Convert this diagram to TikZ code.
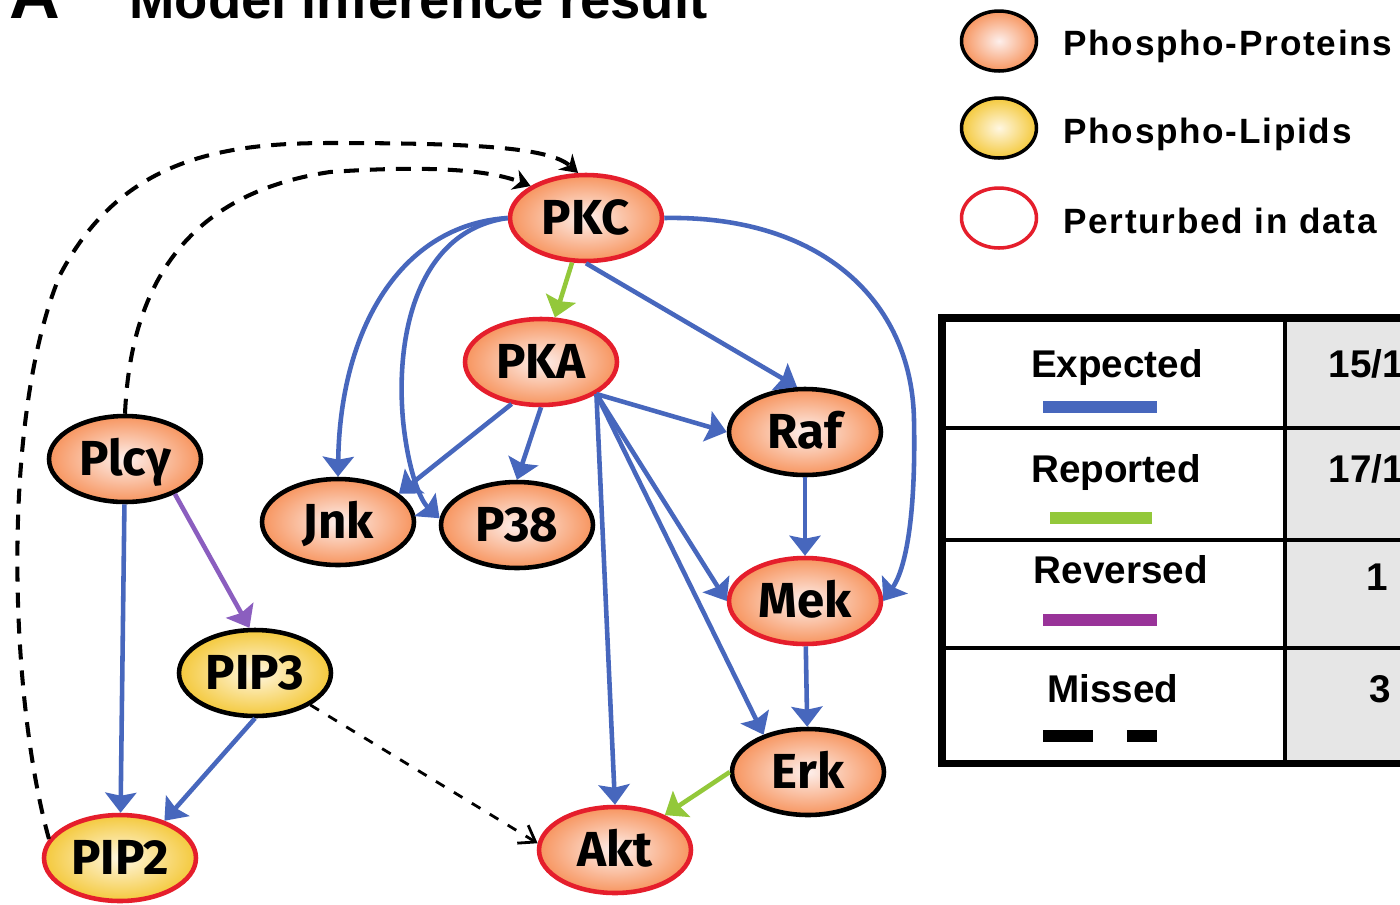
\documentclass[tikz,border=0pt]{standalone}
\usepackage{fontspec}
\setmainfont{Liberation Sans}
\newfontfamily\nodefont{Fira Sans}
\newfontfamily\legendfont[LetterSpace=5]{Liberation Sans}
\usepackage{xcolor}
\usepackage{tikz}
\usetikzlibrary{shapes.geometric, arrows.meta, positioning, calc}

\definecolor{protorange}{HTML}{F7955F}
\definecolor{protcore}{HTML}{FDEFEC}
\definecolor{lipidyellow}{HTML}{F4C93C}
\definecolor{lipidcore}{HTML}{FFF7E2}
\definecolor{pertred}{HTML}{E51E2C}
\definecolor{expblue}{HTML}{4767BD}
\definecolor{repgreen}{HTML}{93C83A}
\definecolor{revpurple}{HTML}{8B5EBF}
\definecolor{revlegend}{HTML}{993399}
\definecolor{cellgray}{HTML}{E6E6E6}

\tikzset{
  molnode/.style={
    ellipse, line width=2.6pt, minimum width=3.04cm, minimum height=1.72cm,
    inner sep=1pt, text height=19pt, text depth=0pt,
    font=\nodefont\bfseries\fontsize{28}{30}\selectfont
  },
  protein/.style={
    molnode, draw=black, inner color=protcore, outer color=protorange
  },
  lipid/.style={
    molnode, draw=black, inner color=lipidcore, outer color=lipidyellow
  },
  perturbed/.style={draw=pertred},
  legendoval/.style={
    ellipse, line width=2pt, minimum width=1.5cm, minimum height=1.2cm
  },
  legendlabel/.style={
    anchor=base west, inner sep=0pt,
    font=\legendfont\bfseries\fontsize{20}{22}\selectfont
  },
  tablelabel/.style={
    anchor=base, inner sep=0pt,
    font=\bfseries\fontsize{22}{24}\selectfont
  },
  netarrow/.style={
    line width=2.6pt, -{Stealth[width=0.62cm, length=0.4cm, inset=0.06cm]}
  },
  expected/.style={netarrow, draw=expblue},
  reported/.style={netarrow, draw=repgreen},
  reversed/.style={netarrow, draw=revpurple},
  missed/.style={
    line width=2.3pt, dash pattern=on 0.3cm off 0.22cm,
    -{Stealth[width=0.42cm, length=0.34cm]}
  },
  missedopen/.style={
    line width=1.6pt, dash pattern=on 0.2cm off 0.22cm,
    -{Straight Barb[width=0.42cm, length=0.3cm]}
  },
  swatch/.style={line width=7pt},
}

\begin{document}
\begin{tikzpicture}[x=0.02cm, y=-0.02cm]
  \path[use as bounding box] (0,0) rectangle (1400,904);
  \clip (0,0) rectangle (1400,904);
  \fill[white] (0,0) rectangle (1400,904);

  % ── Title ──────────────────────────────────────────────────────
  \node[anchor=base west, inner sep=0pt, font=\bfseries\fontsize{40}{44}\selectfont]
    (panel) at (9,18) {A};
  \node[anchor=base west, inner sep=0pt, font=\bfseries\fontsize{31}{36}\selectfont]
    (title) at (129,18) {Model inference result};

  % ── Network nodes ──────────────────────────────────────────────
  \node[protein, perturbed] (PKC) at (586,218) {PKC};
  \node[protein, perturbed] (PKA) at (541,362) {PKA};
  \node[protein] (Raf) at (805,432) {Raf};
  \node[protein, perturbed] (Mek) at (805,601) {Mek};
  \node[protein] (Erk) at (808,772) {Erk};
  \node[protein, perturbed] (Akt) at (615,850) {Akt};
  \node[protein] (Jnk) at (338,522) {Jnk};
  \node[protein] (P38) at (517,525) {P38};
  \node[protein] (Plcy) at (125,459) {Plcγ};
  \node[lipid] (PIP3) at (255,673) {PIP3};
  \node[lipid, perturbed] (PIP2) at (120,858) {PIP2};

  % ── Expected edges ─────────────────────────────────────────────
  \draw[expected] (PKC.south) -- (Raf.100);
  \draw[expected] (PKC.east) .. controls (820,215) and (912,300) .. (914,420)
    .. controls (916,520) and (905,570) .. (Mek.east);
  \draw[expected] (PKC.west) .. controls (400,225) and (340,330) .. (Jnk.north);
  \draw[expected] (PKC.west) .. controls (420,230) and (395,330) .. (403,420)
    .. controls (408,470) and (420,500) .. (P38.175);
  \draw[expected] (PKA.235) -- (Jnk.25);
  \draw[expected] (PKA.south) -- (P38.north);
  \draw[expected] (PKA.-30) -- (Raf.west);
  \draw[expected] (PKA.-30) -- (Mek.west);
  \draw[expected] (PKA.-30) -- (Erk.140);
  \draw[expected] (PKA.-30) -- (Akt.north);
  \draw[expected] (Raf) -- (Mek);
  \draw[expected] (Mek) -- (Erk);
  \draw[expected] (Plcy) -- (PIP2);
  \draw[expected] (PIP3.south) -- (PIP2.40);

  % ── Reported / reversed edges ──────────────────────────────────
  \draw[reported] (PKC) -- (PKA);
  \draw[reported] (Erk.west) -- (Akt.35);
  \draw[reversed] (Plcy.-35) -- (PIP3.97);

  % ── Missed edges ───────────────────────────────────────────────
  \draw[missed] (Plcy.north) .. controls (130,300) and (175,195) .. (330,172)
    .. controls (430,165) and (490,170) .. (PKC.150);
  \draw[missed] (PIP2.165) .. controls (10,700) and (0,420) .. (60,275)
    .. controls (120,160) and (220,143) .. (330,143)
    .. controls (480,143) and (550,148) .. (PKC.100);
  \draw[missedopen] (PIP3.-30) -- (Akt.175);

  % ── Node legend ────────────────────────────────────────────────
  \node[legendoval, draw=black, inner color=protcore, outer color=protorange]
    (legprot) at (999,41) {};
  \node[legendoval, draw=black, inner color=lipidcore, outer color=lipidyellow]
    (leglip) at (999,128) {};
  \node[legendoval, draw=pertred, fill=white] (legpert) at (999,218) {};
  \node[legendlabel] (legprottext) at (1063,55) {Phospho-Proteins};
  \node[legendlabel] (legliptext) at (1063,143) {Phospho-Lipids};
  \node[legendlabel] (legperttext) at (1063,233) {Perturbed in data};

  % ── Edge legend table ──────────────────────────────────────────
  \fill[cellgray] (1285,318) rectangle (1460,763);
  \foreach \ry in {428,540,648}
    \draw[line width=2.6pt] (942,\ry) -- (1460,\ry);
  \draw[line width=2.6pt] (1285,318) -- (1285,763);
  \draw[line width=4pt] (942,318) rectangle (1460,763);

  \node[tablelabel] (rowexp) at (1117,377) {Expected};
  \node[tablelabel] (rowrep) at (1116,482) {Reported};
  \node[tablelabel] (rowrev) at (1121,583) {Reversed};
  \node[tablelabel] (rowmis) at (1113,702) {Missed};
  \node[tablelabel] (numexp) at (1377,377) {15/17};
  \node[tablelabel] (numrep) at (1377,482) {17/17};
  \node[tablelabel] (numrev) at (1377,590) {1};
  \node[tablelabel] (nummis) at (1380,702) {3};

  \draw[swatch, expblue] (1043,407) -- (1157,407);
  \draw[swatch, repgreen] (1050,518) -- (1152,518);
  \draw[swatch, revlegend] (1043,620) -- (1157,620);
  \draw[swatch, black, dash pattern=on 1cm off 0.68cm] (1043,736) -- (1157,736);
\end{tikzpicture}
\end{document}
